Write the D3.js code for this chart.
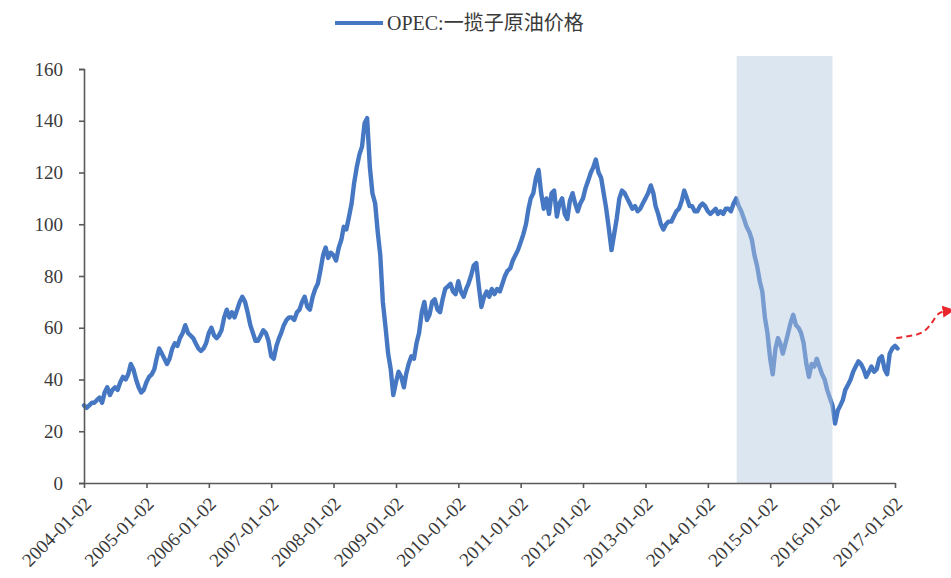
<!DOCTYPE html>
<html>
<head>
<meta charset="utf-8">
<script src="https://cdn.jsdelivr.net/npm/d3@7"></script>
<style>
  html, body { margin: 0; padding: 0; background: #fff; }
  svg { display: block; }
</style>
</head>
<body>
<svg id="chart" width="951" height="578"></svg>
<script>
// ---- data ----
const seriesName = "OPEC:一揽子原油价格";
const startYear = 2004;
// semi-monthly readings (2nd and 17th of each month), USD/barrel
const prices2004 = [30,29, 30,31, 31,32, 33,31, 35,37, 34,36, 37,36, 39,41, 40,42, 46,44, 40,37, 35,36];
const prices2005 = [39,41, 42,44, 48,52, 50,48, 46,48, 52,54, 53,56, 58,61, 58,57, 56,54, 52,51, 52,54];
const prices2006 = [58,60, 57,56, 57,59, 64,67, 64,66, 64,67, 70,72, 70,66, 61,58, 55,55, 57,59, 58,55];
const prices2007 = [49,48, 53,56, 58,61, 63,64, 64,63, 66,67, 70,72, 68,67, 72,75, 77,82, 88,91, 87,89];
const prices2008 = [88,86, 91,94, 99,98, 103,108, 116,122, 127,130, 139,141, 122,112, 108,97, 88,70, 60,50, 44,34];
const prices2009 = [39,43, 41,37, 42,46, 49,48, 54,58, 66,70, 63,65, 70,71, 67,66, 71,75, 76,77, 74,73];
const prices2010 = [78,74, 72,75, 77,80, 84,85, 76,68, 72,74, 72,75, 73,75, 74,77, 80,82, 83,86, 88,90];
const prices2011 = [93,96, 100,106, 110,112, 118,121, 112,106, 110,104, 112,113, 103,108, 110,104, 102,109, 112,108, 105,108];
const prices2012 = [110,114, 117,120, 122,125, 120,118, 112,106, 98,90, 96,102, 110,113, 112,110, 108,106, 107,105, 106,108];
const prices2013 = [110,112, 115,112, 107,104, 100,98, 100,101, 101,103, 105,106, 109,113, 110,107, 107,105, 105,107, 108,107];
const prices2014 = [105,104, 105,106, 104,105, 104,106, 106,105, 108,110, 107,105, 102,99, 97,94, 88,84, 78,74, 64,58];
const prices2015 = [48,42, 52,56, 54,50, 54,58, 62,65, 61,60, 58,54, 46,41, 46,45, 48,45, 42,40, 36,33];
const prices2016 = [30,23, 28,30, 32,36, 38,40, 43,45, 47,46, 44,41, 43,45, 43,44, 48,49, 44,42, 50,52];
const prices2017 = [53,52];
const yTicks = [0, 20, 40, 60, 80, 100, 120, 140, 160];
const xTickLabels = ["2004-01-02","2005-01-02","2006-01-02","2007-01-02","2008-01-02","2009-01-02","2010-01-02",
                     "2011-01-02","2012-01-02","2013-01-02","2014-01-02","2015-01-02","2016-01-02","2017-01-02"];
const shadeStart = "2014-06-20";
const shadeEnd = "2016-01-02";
const shadeTop = 165;
// forecast arrow (dates, values)
const arrowPoints = [["2017-01-10", 56], ["2017-04-20", 57], ["2017-06-20", 58], ["2017-08-10", 62], ["2017-09-10", 66], ["2017-11-05", 66.5]];

// ---- build series ----
const allPrices = [].concat(prices2004, prices2005, prices2006, prices2007, prices2008, prices2009, prices2010,
  prices2011, prices2012, prices2013, prices2014, prices2015, prices2016, prices2017);
const series = allPrices.map((v, i) => {
  const m = Math.floor(i / 2);
  const y = startYear + Math.floor(m / 12);
  const mo = m % 12;
  const day = (i % 2 === 0) ? 2 : 17;
  return { date: new Date(y, mo, day), value: v };
});

const parse = d3.timeParse("%Y-%m-%d");

// ---- layout ----
const svg = d3.select("#chart");
const x = d3.scaleTime()
  .domain([parse(xTickLabels[0]), parse(xTickLabels[xTickLabels.length - 1])])
  .range([84, 895]);
const y = d3.scaleLinear().domain([0, 160]).range([483, 69]);

const lineColor = "#4677c2";
const axisColor = "#595959";
const serif = "'Liberation Serif', 'Times New Roman', 'Noto Sans CJK SC', serif";

// line
const line = d3.line().x(d => x(d.date)).y(d => y(d.value)).curve(d3.curveLinear);
svg.append("path")
  .datum(series)
  .attr("fill", "none")
  .attr("stroke", lineColor)
  .attr("stroke-width", 4.4)
  .attr("stroke-linejoin", "round")
  .attr("stroke-linecap", "round")
  .attr("d", line);

// shade (drawn over line, semi-transparent)
svg.append("rect")
  .attr("x", x(parse(shadeStart)))
  .attr("y", y(shadeTop))
  .attr("width", x(parse(shadeEnd)) - x(parse(shadeStart)))
  .attr("height", y(0) - y(shadeTop))
  .attr("fill", "rgb(179,200,224)")
  .attr("opacity", 0.46);

// y axis
const yAxis = svg.append("g")
  .attr("transform", `translate(${x.range()[0]},0)`)
  .call(d3.axisLeft(y).tickValues(yTicks).tickSize(5).tickPadding(16).tickFormat(d3.format("d")));
yAxis.select(".domain").attr("stroke", axisColor).attr("stroke-width", 1.6);
yAxis.selectAll(".tick line").attr("stroke", axisColor).attr("stroke-width", 1.6);
yAxis.selectAll(".tick text")
  .attr("fill", "#3a3a3a")
  .style("font-family", serif)
  .style("font-size", "19px");

// x axis
const xAxis = svg.append("g")
  .attr("transform", `translate(0,${y(0)})`)
  .call(d3.axisBottom(x).tickValues(xTickLabels.map(parse)).tickSize(5).tickSizeOuter(0)
    .tickFormat(d3.timeFormat("%Y-%m-%d")));
xAxis.select(".domain").attr("stroke", axisColor).attr("stroke-width", 1.6);
xAxis.selectAll(".tick line").attr("stroke", axisColor).attr("stroke-width", 1.6);
xAxis.selectAll(".tick text")
  .attr("fill", "#3a3a3a")
  .style("font-family", serif)
  .style("font-size", "19px")
  .attr("text-anchor", "end")
  .attr("dy", null)
  .attr("y", 0)
  .attr("transform", "translate(8,22) rotate(-45)");

// forecast arrow
svg.append("defs").append("marker")
  .attr("id", "arrowHead")
  .attr("viewBox", "0 0 10 10")
  .attr("refX", 4).attr("refY", 5)
  .attr("markerWidth", 6).attr("markerHeight", 6)
  .attr("orient", "auto")
  .append("path").attr("d", "M0,0 L10,5 L0,10 Z").attr("fill", "#e8262b");
const arrowLine = d3.line().x(d => x(parse(d[0]))).y(d => y(d[1])).curve(d3.curveBasis);
svg.append("path")
  .attr("d", arrowLine(arrowPoints))
  .attr("fill", "none")
  .attr("stroke", "#e8262b")
  .attr("stroke-width", 2)
  .attr("stroke-dasharray", "6,4")
  .attr("marker-end", "url(#arrowHead)");

// legend
const legend = svg.append("g");
legend.append("line")
  .attr("x1", 335).attr("x2", 383).attr("y1", 23).attr("y2", 23)
  .attr("stroke", lineColor).attr("stroke-width", 4);
legend.append("text")
  .attr("x", 387).attr("y", 30)
  .attr("fill", "#3a3a3a")
  .style("font-family", serif)
  .style("font-size", "20px")
  .text(seriesName);
</script>
</body>
</html>
